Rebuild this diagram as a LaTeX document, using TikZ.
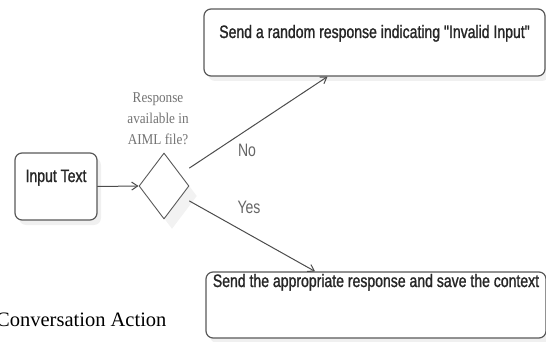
\documentclass[tikz,border=0pt]{standalone}
\usepackage{fontspec}
\setmainfont{Liberation Serif}
\newfontfamily\narrowsans[FakeStretch=0.78]{Liberation Sans}
\newfontfamily\narrowbold[FakeStretch=0.78,FakeBold=1.2]{Liberation Sans}
\newfontfamily\narrowserif[FakeStretch=0.88]{Liberation Serif}
\usetikzlibrary{shapes.geometric,shadows,arrows.meta}
\begin{document}
\begin{tikzpicture}[x=1pt,y=-1pt,line join=round,line cap=round,>={Straight Barb[length=6pt,width=8pt]},
	box/.style={draw=black!65,line width=1.2pt,fill=white,rounded corners=7pt,inner sep=0pt,
		text height=29pt,text depth=38pt,font=\narrowbold\fontsize{18}{20}\selectfont,text=black!85,
		drop shadow={shadow xshift=4pt,shadow yshift=-5pt,opacity=0.12}},
	decision/.style={draw=black!65,line width=0.9pt,fill=white,diamond,inner sep=0pt,
		minimum width=50pt,minimum height=66pt,
		drop shadow={shadow xshift=8pt,shadow yshift=-10pt,opacity=0.1}},
	flow/.style={->,draw=black!70,line width=1pt},
	answer/.style={font=\narrowsans\fontsize{18}{20}\selectfont,text=black!60,inner sep=0pt}]
	\useasboundingbox (0,0) rectangle (546,342);
	% nodes
	\node[box,minimum width=82pt] (input) at (56,186.5) {Input Text};
	\node[decision] (check) at (164,186) {};
	\node[align=center,inner sep=0pt,text=black!55,font=\narrowserif\fontsize{15}{21}\selectfont] (question) at (158,119) {Response\\available in\\AIML file?};
	\node[box,minimum width=341pt] (invalid) at (374.5,42.5) {Send a random response indicating "Invalid Input"};
	\node[box,minimum width=340pt,text height=15pt,text depth=51pt] (reply) at (376,305) {Send the appropriate response and save the context};
	% connectors
	\draw[flow] (input.east) -- (check.west);
	\draw[flow] ([yshift=18pt]check.east) -- ([xshift=-47pt]invalid.south);
	\draw[flow] ([yshift=-15pt]check.east) -- ([xshift=-61pt]reply.north);
	\node[answer] (no) at (247,150) {No};
	\node[answer] (yes) at (249,207) {Yes};
	% caption
	\node[anchor=base west,inner sep=0pt,font=\fontsize{20.5}{22}\selectfont] (caption) at (-4,326) {Conversation Action};
\end{tikzpicture}
\end{document}
